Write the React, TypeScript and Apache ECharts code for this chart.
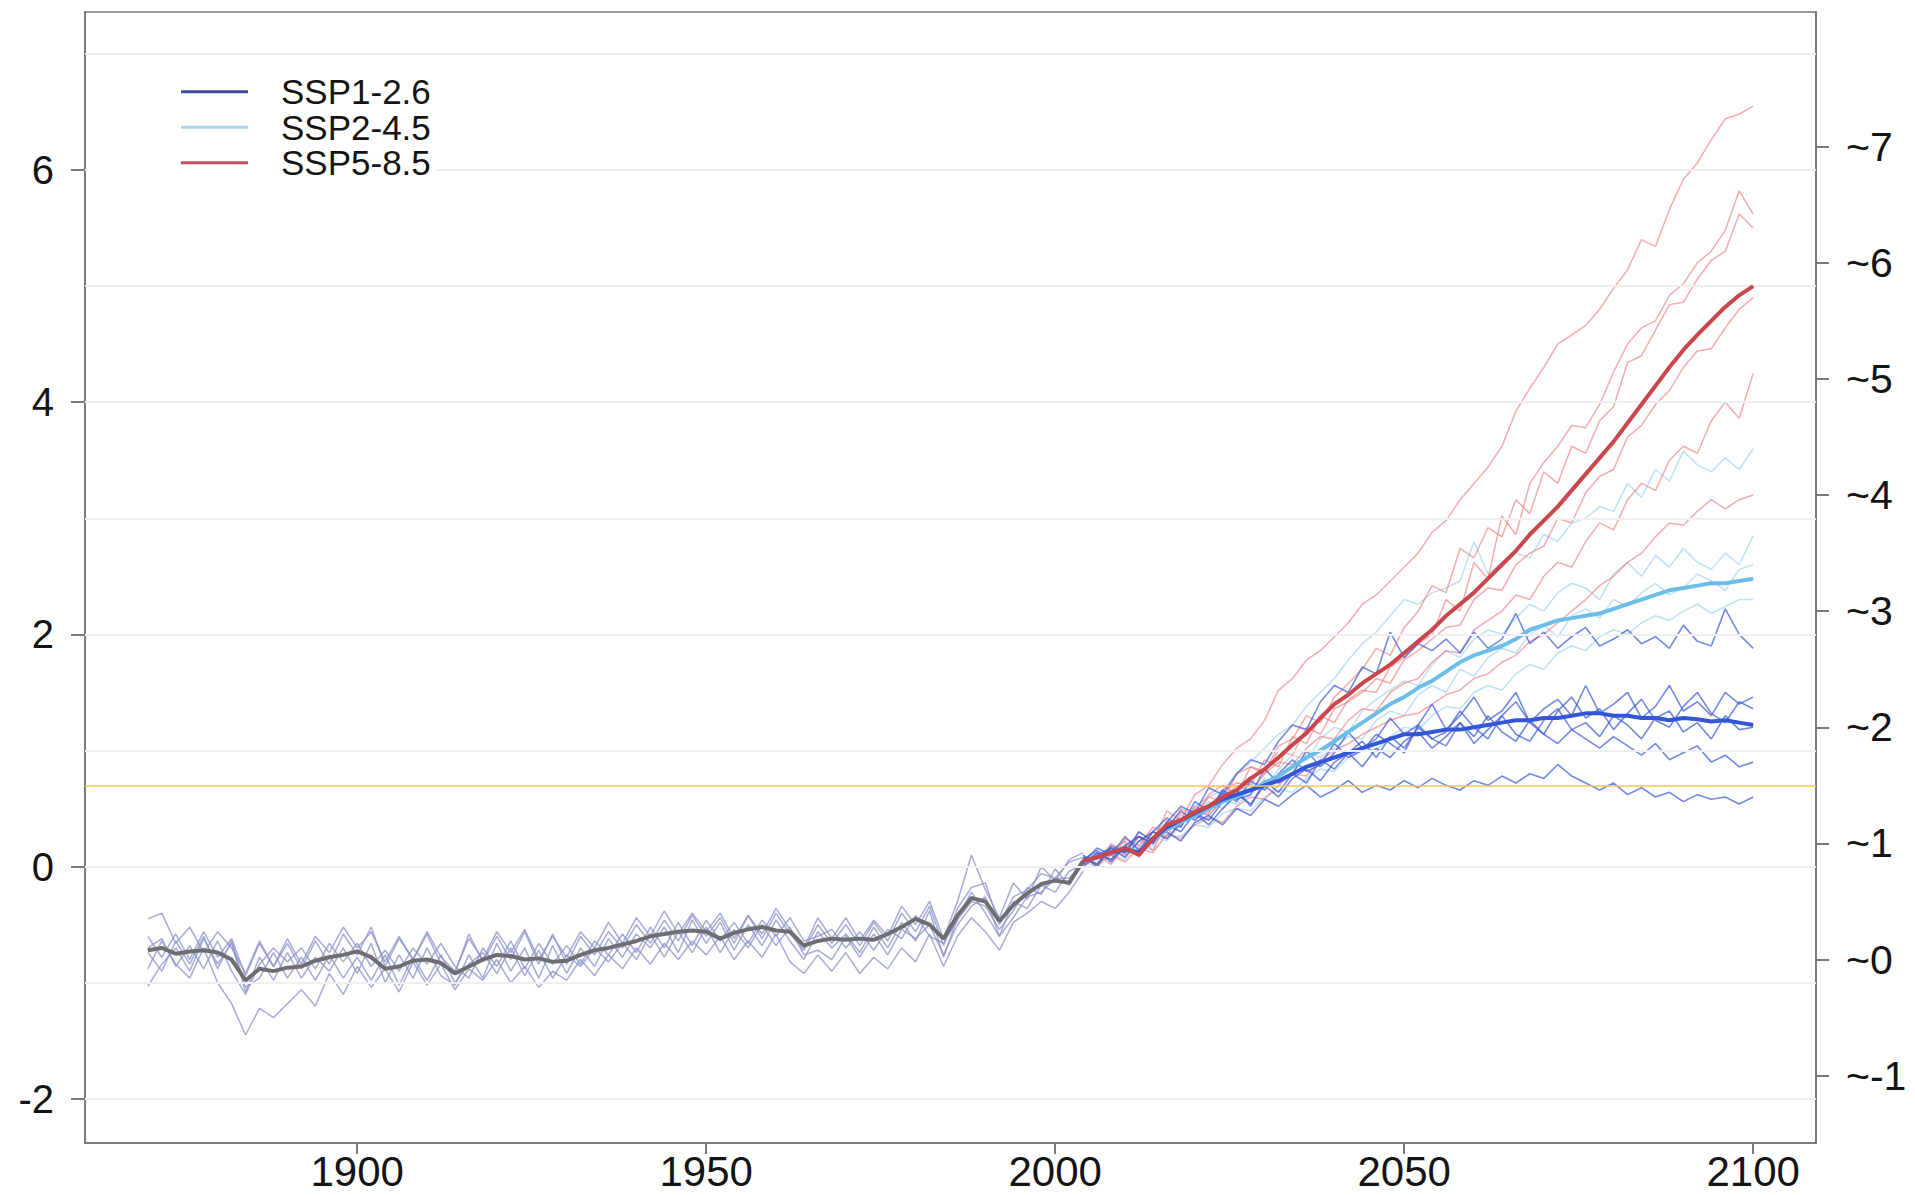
import React, { useEffect, useRef } from "react";
import * as echarts from "echarts";

const FONT = "'Liberation Sans', Arial, Helvetica, sans-serif";

const range = (a: number, b: number, s: number) => {
  const out: number[] = [];
  for (let v = a; v <= b + 1e-9; v += s) out.push(v);
  return out;
};

// x positions
const HIST_YEARS = range(1870, 2004, 2); // 68
const FUT_YEARS = range(2004, 2100, 2); // 49

const X_TICKS = [1900, 1950, 2000, 2050, 2100];
const Y_TICKS = [-2, 0, 2, 4, 6];
const Y_RIGHT_TICKS = [-1, 0, 1, 2, 3, 4, 5, 6, 7];
const GRID_VALUES = [-2, -1, 0, 1, 2, 3, 4, 5, 6, 7];
const THRESHOLD = 0.7;
const LEGEND_NAMES = ["SSP1-2.6", "SSP2-4.5", "SSP5-8.5"];

// historical ensemble mean
const HIST_MEAN = [
  -0.72, -0.70, -0.75, -0.73, -0.72, -0.74, -0.80, -0.98, -0.88, -0.90,
  -0.87, -0.86, -0.81, -0.78, -0.76, -0.73, -0.78, -0.88, -0.86, -0.81,
  -0.80, -0.83, -0.92, -0.86, -0.80, -0.76, -0.77, -0.80, -0.79, -0.82,
  -0.81, -0.76, -0.72, -0.70, -0.67, -0.64, -0.60, -0.58, -0.56, -0.55,
  -0.56, -0.62, -0.57, -0.54, -0.52, -0.55, -0.56, -0.68, -0.64, -0.62,
  -0.63, -0.62, -0.63, -0.58, -0.52, -0.45, -0.50, -0.62, -0.42, -0.27,
  -0.30, -0.47, -0.33, -0.23, -0.15, -0.12, -0.14, 0.05,
];
const HIST_M1 = [
  -0.45, -0.40, -0.66, -0.52, -0.74, -0.56, -0.70, -0.92, -0.64, -0.86,
  -0.62, -0.84, -0.60, -0.74, -0.52, -0.70, -0.56, -0.82, -0.60, -0.80,
  -0.56, -0.78, -0.90, -0.62, -0.80, -0.56, -0.74, -0.54, -0.80, -0.60,
  -0.78, -0.56, -0.70, -0.48, -0.66, -0.44, -0.60, -0.38, -0.58, -0.40,
  -0.56, -0.40, -0.62, -0.42, -0.58, -0.36, -0.54, -0.70, -0.44, -0.62,
  -0.44, -0.64, -0.46, -0.60, -0.34, -0.50, -0.30, -0.62, -0.30, 0.10,
  -0.20, -0.44, -0.14, -0.28, 0.00, -0.12, 0.06, 0.12,
];
const HIST_M2 = [
  -0.88, -0.64, -0.84, -0.96, -0.70, -1.00, -1.18, -1.45, -1.22, -1.30,
  -1.18, -1.06, -1.20, -0.92, -1.10, -0.86, -1.04, -0.88, -1.08, -0.82,
  -1.02, -0.84, -1.06, -0.88, -0.98, -0.80, -1.00, -0.86, -1.04, -0.90,
  -0.98, -0.80, -0.94, -0.76, -0.88, -0.70, -0.84, -0.66, -0.80, -0.64,
  -0.76, -0.60, -0.80, -0.64, -0.78, -0.58, -0.82, -0.92, -0.76, -0.90,
  -0.74, -0.92, -0.78, -0.88, -0.70, -0.82, -0.58, -0.86, -0.60, -0.44,
  -0.56, -0.72, -0.48, -0.40, -0.30, -0.36, -0.22, -0.04,
];
const HIST_M3 = [
  -1.03, -0.84, -0.70, -0.90, -0.62, -0.84, -0.66, -1.08, -0.78, -0.98,
  -0.74, -0.96, -0.78, -0.90, -0.70, -0.92, -0.66, -1.00, -0.76, -0.96,
  -0.70, -0.94, -1.02, -0.76, -0.96, -0.66, -0.90, -0.70, -0.96, -0.68,
  -0.92, -0.70, -0.86, -0.62, -0.78, -0.58, -0.70, -0.52, -0.74, -0.46,
  -0.66, -0.48, -0.72, -0.50, -0.68, -0.46, -0.64, -0.80, -0.56, -0.70,
  -0.58, -0.74, -0.52, -0.70, -0.48, -0.64, -0.38, -0.78, -0.44, -0.22,
  -0.40, -0.60, -0.30, -0.36, -0.16, -0.22, -0.04, 0.02,
];
const HIST_M4 = [
  -0.60, -0.78, -0.58, -0.80, -0.56, -0.78, -0.62, -0.94, -0.66, -0.86,
  -0.66, -0.88, -0.64, -0.84, -0.58, -0.76, -0.52, -0.86, -0.62, -0.80,
  -0.58, -0.84, -0.92, -0.58, -0.82, -0.60, -0.80, -0.56, -0.84, -0.58,
  -0.84, -0.60, -0.76, -0.56, -0.70, -0.50, -0.66, -0.46, -0.64, -0.42,
  -0.60, -0.44, -0.66, -0.42, -0.62, -0.40, -0.58, -0.72, -0.50, -0.66,
  -0.50, -0.68, -0.48, -0.64, -0.40, -0.56, -0.34, -0.68, -0.36, -0.18,
  -0.14, -0.50, -0.26, -0.20, -0.06, -0.10, 0.04, 0.08,
];
const HIST_M5 = [
  -0.74, -0.90, -0.64, -0.84, -0.60, -0.88, -0.64, -1.04, -0.96, -0.74,
  -0.96, -0.78, -0.98, -0.76, -0.96, -0.78, -0.98, -0.76, -1.02, -0.78,
  -0.98, -0.76, -1.00, -0.84, -0.74, -0.92, -0.70, -0.94, -0.72, -0.96,
  -0.76, -0.86, -0.70, -0.82, -0.66, -0.80, -0.58, -0.78, -0.56, -0.74,
  -0.52, -0.74, -0.54, -0.70, -0.50, -0.68, -0.52, -0.76, -0.72, -0.80,
  -0.60, -0.78, -0.58, -0.76, -0.54, -0.62, -0.50, -0.76, -0.50, -0.34,
  -0.26, -0.60, -0.44, -0.26, -0.22, -0.10, -0.10, 0.04,
];
const HIST_M6 = [
  -0.70, -0.62, -0.86, -0.68, -0.88, -0.64, -0.90, -1.10, -0.84, -0.70,
  -0.82, -0.70, -0.88, -0.66, -0.82, -0.66, -0.86, -0.72, -0.90, -0.70,
  -0.84, -0.66, -0.86, -0.96, -0.70, -0.86, -0.64, -0.88, -0.66, -0.84,
  -0.68, -0.84, -0.64, -0.76, -0.58, -0.74, -0.52, -0.70, -0.48, -0.68,
  -0.46, -0.64, -0.48, -0.66, -0.46, -0.60, -0.44, -0.64, -0.60, -0.54,
  -0.70, -0.56, -0.72, -0.54, -0.62, -0.42, -0.60, -0.66, -0.46, -0.30,
  -0.34, -0.54, -0.38, -0.18, -0.24, -0.02, -0.16, 0.06,
];

// SSP5-8.5
const SSP585_MEAN = [
  0.05, 0.08, 0.12, 0.16, 0.10, 0.24, 0.36, 0.40, 0.47, 0.52,
  0.60, 0.66, 0.76, 0.84, 0.94, 1.05, 1.15, 1.28, 1.40, 1.48,
  1.58, 1.66, 1.74, 1.84, 1.94, 2.04, 2.16, 2.26, 2.36, 2.48,
  2.60, 2.72, 2.86, 2.98, 3.10, 3.24, 3.38, 3.52, 3.66, 3.82,
  3.98, 4.14, 4.30, 4.45, 4.58, 4.70, 4.82, 4.92, 5.00,
];
const SSP585_R1 = [
  0.10, 0.02, 0.20, 0.12, 0.30, 0.22, 0.48, 0.40, 0.62, 0.70,
  0.88, 1.02, 1.10, 1.26, 1.52, 1.62, 1.78, 1.86, 1.98, 2.10,
  2.26, 2.34, 2.46, 2.58, 2.70, 2.88, 2.98, 3.16, 3.30, 3.44,
  3.62, 3.92, 4.12, 4.30, 4.50, 4.58, 4.66, 4.80, 4.98, 5.14,
  5.40, 5.34, 5.66, 5.92, 6.06, 6.26, 6.44, 6.48, 6.55,
];
const SSP585_R2 = [
  0.04, 0.10, 0.02, 0.18, 0.26, 0.14, 0.40, 0.34, 0.52, 0.46,
  0.66, 0.72, 0.70, 0.92, 0.86, 1.12, 1.06, 1.30, 1.24, 1.44,
  1.52, 1.50, 1.72, 1.80, 1.92, 2.00, 2.30, 2.20, 2.62, 2.48,
  3.02, 2.86, 3.30, 3.48, 3.62, 3.80, 3.78, 3.98, 4.26, 4.50,
  4.64, 4.70, 4.92, 5.02, 5.20, 5.30, 5.48, 5.82, 5.62,
];
const SSP585_R3 = [
  0.08, 0.00, 0.14, 0.22, 0.08, 0.30, 0.26, 0.46, 0.42, 0.60,
  0.56, 0.80, 0.86, 0.82, 1.04, 1.10, 1.30, 1.24, 1.46, 1.58,
  1.70, 1.88, 1.82, 2.06, 2.20, 2.42, 2.36, 2.74, 2.66, 2.92,
  2.84, 3.16, 3.04, 3.40, 3.30, 3.62, 3.56, 3.84, 3.96, 4.34,
  4.40, 4.62, 4.84, 4.86, 5.06, 5.22, 5.30, 5.62, 5.50,
];
const SSP585_R4 = [
  0.02, 0.12, 0.06, 0.24, 0.18, 0.34, 0.30, 0.50, 0.44, 0.62,
  0.70, 0.62, 0.86, 0.80, 1.00, 0.96, 1.20, 1.14, 1.36, 1.42,
  1.50, 1.62, 1.58, 1.78, 1.86, 1.96, 2.06, 2.08, 2.30, 2.40,
  2.38, 2.60, 2.70, 2.76, 3.00, 2.96, 3.22, 3.36, 3.42, 3.70,
  3.80, 3.98, 4.10, 4.30, 4.44, 4.46, 4.64, 4.80, 4.90,
];
const SSP585_R5 = [
  0.06, 0.02, 0.10, 0.04, 0.16, 0.12, 0.28, 0.24, 0.36, 0.42,
  0.38, 0.52, 0.60, 0.58, 0.70, 0.80, 0.78, 0.92, 1.00, 1.06,
  1.14, 1.20, 1.26, 1.30, 1.32, 1.40, 1.48, 1.52, 1.62, 1.66,
  1.76, 1.82, 1.94, 2.00, 2.10, 2.20, 2.30, 2.42, 2.50, 2.62,
  2.70, 2.84, 2.96, 2.94, 3.06, 3.16, 3.08, 3.16, 3.20,
];
const SSP585_R6 = [
  0.00, 0.08, 0.16, 0.10, 0.22, 0.30, 0.24, 0.38, 0.50, 0.44,
  0.58, 0.70, 0.64, 0.80, 0.90, 0.88, 1.02, 1.12, 1.10, 1.26,
  1.36, 1.34, 1.50, 1.58, 1.62, 1.76, 1.86, 1.84, 2.04, 2.12,
  2.20, 2.34, 2.30, 2.50, 2.62, 2.58, 2.80, 2.96, 2.90, 3.16,
  3.30, 3.24, 3.50, 3.62, 3.56, 3.84, 4.00, 3.86, 4.25,
];

// SSP2-4.5
const SSP245_MEAN = [
  0.05, 0.08, 0.12, 0.16, 0.12, 0.24, 0.32, 0.38, 0.44, 0.50,
  0.56, 0.60, 0.66, 0.72, 0.78, 0.86, 0.94, 1.00, 1.08, 1.16,
  1.24, 1.32, 1.40, 1.46, 1.54, 1.60, 1.68, 1.76, 1.82, 1.86,
  1.90, 1.96, 2.04, 2.08, 2.12, 2.14, 2.16, 2.18, 2.22, 2.26,
  2.30, 2.34, 2.38, 2.40, 2.42, 2.44, 2.44, 2.46, 2.48,
];
const SSP245_L1 = [
  0.06, 0.12, 0.04, 0.20, 0.16, 0.30, 0.38, 0.34, 0.52, 0.60,
  0.66, 0.80, 0.90, 1.02, 1.14, 1.22, 1.38, 1.50, 1.62, 1.78,
  1.92, 2.02, 2.16, 2.30, 2.26, 2.36, 2.40, 2.46, 2.80, 2.52,
  2.62, 2.70, 2.66, 2.86, 2.80, 2.96, 3.00, 3.10, 3.06, 3.30,
  3.18, 3.42, 3.32, 3.58, 3.46, 3.40, 3.52, 3.42, 3.60,
];
const SSP245_L2 = [
  0.02, 0.10, 0.16, 0.08, 0.22, 0.18, 0.32, 0.44, 0.40, 0.56,
  0.50, 0.64, 0.72, 0.66, 0.84, 0.96, 0.92, 1.10, 1.20, 1.16,
  1.34, 1.44, 1.52, 1.60, 1.56, 1.74, 1.86, 1.80, 1.96, 2.04,
  2.00, 2.14, 2.26, 2.20, 2.36, 2.44, 2.40, 2.30, 2.52, 2.62,
  2.50, 2.68, 2.58, 2.74, 2.62, 2.56, 2.70, 2.60, 2.85,
];
const SSP245_L3 = [
  0.08, 0.04, 0.14, 0.18, 0.10, 0.26, 0.22, 0.36, 0.48, 0.44,
  0.58, 0.54, 0.62, 0.76, 0.72, 0.80, 0.98, 0.94, 1.02, 1.12,
  1.10, 1.26, 1.34, 1.30, 1.48, 1.56, 1.50, 1.70, 1.64, 1.80,
  1.88, 1.84, 2.00, 2.08, 1.98, 2.16, 2.22, 2.14, 2.30, 2.24,
  2.36, 2.44, 2.34, 2.40, 2.52, 2.46, 2.38, 2.56, 2.60,
];
const SSP245_L4 = [
  0.04, 0.00, 0.10, 0.06, 0.18, 0.14, 0.28, 0.26, 0.36, 0.34,
  0.46, 0.50, 0.48, 0.60, 0.66, 0.64, 0.76, 0.84, 0.82, 0.94,
  1.02, 1.00, 1.12, 1.20, 1.18, 1.30, 1.38, 1.36, 1.50, 1.56,
  1.52, 1.66, 1.74, 1.70, 1.84, 1.90, 1.86, 1.98, 2.04, 2.00,
  2.10, 2.16, 2.12, 2.20, 2.26, 2.18, 2.24, 2.30, 2.30,
];

// SSP1-2.6
const SSP126_MEAN = [
  0.05, 0.08, 0.12, 0.15, 0.12, 0.24, 0.34, 0.40, 0.46, 0.52,
  0.58, 0.62, 0.66, 0.70, 0.74, 0.80, 0.86, 0.90, 0.94, 0.98,
  1.02, 1.06, 1.10, 1.14, 1.14, 1.16, 1.18, 1.18, 1.20, 1.22,
  1.24, 1.26, 1.26, 1.28, 1.28, 1.30, 1.32, 1.32, 1.30, 1.30,
  1.28, 1.28, 1.26, 1.28, 1.27, 1.25, 1.26, 1.24, 1.22,
];
const SSP126_B1 = [
  0.08, 0.02, 0.16, 0.12, 0.26, 0.20, 0.38, 0.52, 0.46, 0.68,
  0.62, 0.80, 0.92, 0.88, 1.08, 1.22, 1.18, 1.42, 1.56, 1.50,
  1.72, 1.66, 2.02, 1.80, 1.92, 1.86, 1.96, 1.84, 2.02, 1.88,
  1.96, 2.18, 1.92, 2.02, 1.88, 1.98, 2.06, 1.90, 1.96, 2.04,
  1.92, 1.98, 1.88, 2.08, 1.94, 1.90, 2.22, 2.00, 1.88,
];
const SSP126_B2 = [
  0.04, 0.16, 0.10, 0.26, 0.14, 0.30, 0.42, 0.34, 0.56, 0.48,
  0.66, 0.58, 0.62, 0.84, 0.72, 0.80, 1.00, 0.86, 0.98, 1.16,
  1.02, 1.10, 1.28, 1.14, 1.22, 1.40, 1.18, 1.30, 1.46, 1.26,
  1.34, 1.50, 1.24, 1.36, 1.44, 1.30, 1.56, 1.32, 1.40, 1.50,
  1.28, 1.38, 1.56, 1.34, 1.42, 1.30, 1.50, 1.40, 1.46,
];
const SSP126_B3 = [
  0.10, 0.00, 0.18, 0.12, 0.30, 0.22, 0.34, 0.48, 0.40, 0.50,
  0.64, 0.56, 0.74, 0.66, 0.80, 0.92, 0.82, 0.88, 1.06, 0.94,
  1.00, 1.14, 1.06, 0.98, 1.22, 1.10, 1.16, 1.34, 1.20, 1.10,
  1.30, 1.42, 1.24, 1.14, 1.34, 1.46, 1.28, 1.36, 1.18, 1.32,
  1.44, 1.26, 1.20, 1.38, 1.50, 1.32, 1.24, 1.42, 1.36,
];
const SSP126_B4 = [
  0.00, 0.10, 0.16, 0.08, 0.22, 0.30, 0.24, 0.38, 0.46, 0.36,
  0.50, 0.62, 0.54, 0.70, 0.60, 0.76, 0.84, 0.74, 0.90, 0.98,
  0.86, 1.02, 0.94, 1.08, 1.16, 1.02, 1.12, 1.24, 1.06, 1.18,
  1.30, 1.14, 1.08, 1.26, 1.36, 1.18, 1.24, 1.12, 1.30, 1.22,
  1.10, 1.28, 1.34, 1.16, 1.24, 1.10, 1.30, 1.18, 1.20,
];
const SSP126_B5 = [
  0.06, 0.14, 0.04, 0.18, 0.26, 0.20, 0.36, 0.30, 0.46, 0.40,
  0.56, 0.66, 0.52, 0.74, 0.64, 0.80, 0.72, 0.92, 0.84, 0.98,
  1.08, 0.94, 1.12, 1.02, 1.20, 1.10, 1.04, 1.24, 1.12, 1.30,
  1.16, 1.08, 1.26, 1.14, 1.06, 1.18, 1.10, 1.02, 1.12, 1.04,
  0.96, 1.06, 0.92, 0.98, 1.04, 0.90, 0.96, 0.86, 0.90,
];
const SSP126_B6 = [
  0.02, 0.12, 0.06, 0.18, 0.10, 0.24, 0.30, 0.22, 0.38, 0.44,
  0.36, 0.50, 0.44, 0.58, 0.52, 0.62, 0.70, 0.60, 0.66, 0.74,
  0.64, 0.70, 0.66, 0.74, 0.68, 0.76, 0.70, 0.66, 0.74, 0.70,
  0.78, 0.72, 0.80, 0.76, 0.88, 0.78, 0.72, 0.66, 0.72, 0.62,
  0.68, 0.60, 0.64, 0.56, 0.62, 0.58, 0.60, 0.54, 0.60,
];

const C = {
  histMember: "rgba(138,144,200,0.75)",
  histMean: "#6e6e72",
  blueMember: "rgba(62,92,214,0.72)",
  blueMean: "#3456d6",
  lbMember: "rgba(168,214,242,0.75)",
  lbMean: "#6dbde9",
  redMember: "rgba(236,120,124,0.62)",
  redMean: "#c8464c",
  legend126: "#3d4a9e",
  legend245: "#a8d4ee",
  legend585: "#c2505e",
  threshold: "#f2c94c",
  grid: "#efefef",
  axis: "#7a7a7a",
  text: "#141414",
};

const pairs = (xs: number[], ys: number[]) => {
  const n = Math.min(xs.length, ys.length);
  const out: number[][] = [];
  for (let i = 0; i < n; i++) out.push([xs[i], ys[i]]);
  return out;
};

const lineSeries = (name: string, xs: number[], ys: number[], color: string, width: number, z: number, extra: any = {}) => ({
  name,
  type: "line",
  data: pairs(xs, ys),
  showSymbol: false,
  symbol: "none",
  silent: true,
  z,
  lineStyle: { color, width },
  itemStyle: { color },
  emphasis: { disabled: true },
  ...extra,
});

export default function App() {
  const ref = useRef<HTMLDivElement>(null);
  useEffect(() => {
    if (!ref.current) return;
    const chart = echarts.init(ref.current, null, { renderer: "svg" });

    const markLine = {
      silent: true,
      symbol: "none",
      animation: false,
      label: { show: false },
      data: [
        ...GRID_VALUES.map((v) => ({ yAxis: v, lineStyle: { color: C.grid, width: 2, type: "solid" } })),
        { yAxis: THRESHOLD, lineStyle: { color: C.threshold, width: 1.6, type: "solid" } },
      ],
    };

    const series: any[] = [
      lineSeries("hist1", HIST_YEARS, HIST_M1, C.histMember, 1.5, 1, { markLine }),
      lineSeries("hist2", HIST_YEARS, HIST_M2, C.histMember, 1.5, 1),
      lineSeries("hist3", HIST_YEARS, HIST_M3, C.histMember, 1.5, 1),
      lineSeries("hist4", HIST_YEARS, HIST_M4, C.histMember, 1.5, 1),
      lineSeries("hist5", HIST_YEARS, HIST_M5, C.histMember, 1.5, 1),
      lineSeries("hist6", HIST_YEARS, HIST_M6, C.histMember, 1.5, 1),
      lineSeries("histMean", HIST_YEARS, HIST_MEAN, C.histMean, 4, 2),
      lineSeries("lb1", FUT_YEARS, SSP245_L1, C.lbMember, 1.5, 2),
      lineSeries("lb2", FUT_YEARS, SSP245_L2, C.lbMember, 1.5, 2),
      lineSeries("lb3", FUT_YEARS, SSP245_L3, C.lbMember, 1.5, 2),
      lineSeries("lb4", FUT_YEARS, SSP245_L4, C.lbMember, 1.5, 2),
      lineSeries("r1", FUT_YEARS, SSP585_R1, C.redMember, 1.5, 2),
      lineSeries("r2", FUT_YEARS, SSP585_R2, C.redMember, 1.5, 2),
      lineSeries("r3", FUT_YEARS, SSP585_R3, C.redMember, 1.5, 2),
      lineSeries("r4", FUT_YEARS, SSP585_R4, C.redMember, 1.5, 2),
      lineSeries("r5", FUT_YEARS, SSP585_R5, C.redMember, 1.5, 2),
      lineSeries("r6", FUT_YEARS, SSP585_R6, C.redMember, 1.5, 2),
      lineSeries("b1", FUT_YEARS, SSP126_B1, C.blueMember, 1.6, 3),
      lineSeries("b2", FUT_YEARS, SSP126_B2, C.blueMember, 1.6, 3),
      lineSeries("b3", FUT_YEARS, SSP126_B3, C.blueMember, 1.6, 3),
      lineSeries("b4", FUT_YEARS, SSP126_B4, C.blueMember, 1.6, 3),
      lineSeries("b5", FUT_YEARS, SSP126_B5, C.blueMember, 1.6, 3),
      lineSeries("b6", FUT_YEARS, SSP126_B6, C.blueMember, 1.6, 3),
      lineSeries("ssp245Mean", FUT_YEARS, SSP245_MEAN, C.lbMean, 4, 4),
      lineSeries("ssp126Mean", FUT_YEARS, SSP126_MEAN, C.blueMean, 4, 4),
      lineSeries("ssp585Mean", FUT_YEARS, SSP585_MEAN, C.redMean, 4, 5),
      // legend entries
      lineSeries(LEGEND_NAMES[0], [], [], C.legend126, 3, 1),
      lineSeries(LEGEND_NAMES[1], [], [], C.legend245, 3, 1),
      lineSeries(LEGEND_NAMES[2], [], [], C.legend585, 3, 1),
    ];

    const option: any = {
      animation: false,
      backgroundColor: "#ffffff",
      textStyle: { fontFamily: FONT },
      grid: {
        left: 85,
        top: 12,
        right: 99,
        bottom: 52,
        show: true,
        borderColor: "#9a9a9a",
        borderWidth: 2,
        backgroundColor: "transparent",
      },
      legend: {
        data: LEGEND_NAMES,
        orient: "vertical",
        left: 88,
        top: 60,
        padding: [14, 6, 14, 93],
        backgroundColor: "#ffffff",
        z: 20,
        icon: "rect",
        itemWidth: 67,
        itemHeight: 3,
        itemGap: 0,
        selectedMode: false,
        textStyle: {
          fontFamily: FONT,
          fontSize: 35,
          color: C.text,
          lineHeight: 35.5,
          padding: [0, 0, 0, 28],
        },
      },
      xAxis: {
        type: "value",
        min: 1861,
        max: 2109,
        axisLine: { show: true, onZero: false, lineStyle: { color: C.axis, width: 2 } },
        axisTick: { show: true, customValues: X_TICKS, length: 11, lineStyle: { color: C.axis, width: 2 } },
        axisLabel: {
          customValues: X_TICKS,
          fontSize: 42,
          color: C.text,
          margin: 7,
          fontFamily: FONT,
          formatter: (v: number) => String(v),
        },
        splitLine: { show: false },
      },
      yAxis: [
        {
          type: "value",
          position: "left",
          min: -2.38,
          max: 7.36,
          axisLine: { show: true, onZero: false, lineStyle: { color: C.axis, width: 2 } },
          axisTick: { show: true, customValues: Y_TICKS, length: 14, lineStyle: { color: C.axis, width: 2 } },
          axisLabel: {
            customValues: Y_TICKS,
            fontSize: 40,
            color: C.text,
            margin: 31,
            fontFamily: FONT,
            formatter: (v: number) => String(v),
          },
          splitLine: { show: false },
        },
        {
          type: "value",
          position: "right",
          min: -2.38 + 0.8,
          max: 7.36 + 0.8,
          axisLine: { show: true, onZero: false, lineStyle: { color: C.axis, width: 2 } },
          axisTick: { show: true, customValues: Y_RIGHT_TICKS, length: 13, lineStyle: { color: C.axis, width: 2 } },
          axisLabel: {
            customValues: Y_RIGHT_TICKS,
            fontSize: 41,
            color: C.text,
            margin: 30,
            fontFamily: FONT,
            formatter: (v: number) => "~" + v,
          },
          splitLine: { show: false },
        },
      ],
      series,
    };

    chart.setOption(option);
    return () => chart.dispose();
  }, []);

  return (
    <div
      ref={ref}
      style={{ position: "fixed", left: 0, top: 0, width: "1915px", height: "1195px", background: "#fff" }}
    />
  );
}
